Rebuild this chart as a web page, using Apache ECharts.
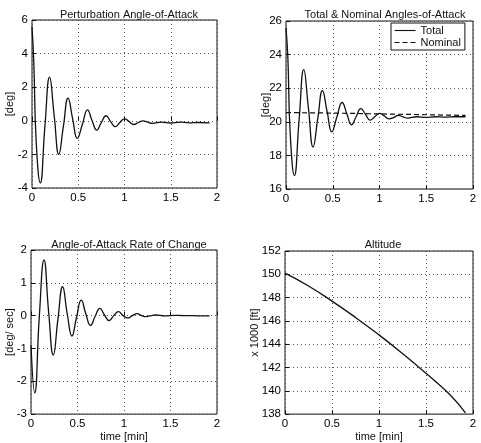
<!DOCTYPE html>
<html>
<head>
<meta charset="utf-8">
<script src="https://cdn.jsdelivr.net/npm/echarts@6/dist/echarts.min.js"></script>
<style>
  html, body { margin: 0; padding: 0; background: #fff; }
  #main { width: 481px; height: 443px; }
</style>
</head>
<body>
<div id="main"></div>
<script>
// time samples (min)
var tAlpha = [0, 0.02, 0.045, 0.09, 0.14, 0.19, 0.24, 0.29, 0.34, 0.39, 0.44, 0.49, 0.545, 0.6, 0.65, 0.7, 0.75, 0.8, 0.85, 0.9, 0.95, 1.0, 1.05, 1.1, 1.15, 1.2, 1.25, 1.3, 1.4, 1.5, 1.6, 1.7, 1.8, 1.92];
var pertAlpha = [5.6, 3.4, -1.2, -3.7, -0.3, 2.6, 0.3, -2.0, -0.3, 1.35, 0.1, -1.05, -0.2, 0.65, 0.0, -0.55, -0.1, 0.3, -0.05, -0.35, -0.1, 0.12, -0.05, -0.22, -0.1, 0.0, -0.08, -0.15, -0.08, -0.13, -0.08, -0.12, -0.1, -0.12];
var totalAlpha = [25.6, 23.8, 19.3, 16.8, 20.1, 23.1, 20.8, 18.5, 20.2, 21.85, 20.6, 19.4, 20.3, 21.15, 20.5, 19.82, 20.3, 20.78, 20.45, 20.1, 20.3, 20.5, 20.35, 20.18, 20.25, 20.38, 20.3, 20.22, 20.3, 20.26, 20.3, 20.28, 20.3, 20.3];

var tNominal = [0, 0.5, 1.0, 1.5, 1.92];
var nominalAlpha = [20.55, 20.52, 20.47, 20.42, 20.38];

var tRate = [0, 0.04, 0.09, 0.14, 0.19, 0.24, 0.29, 0.34, 0.39, 0.44, 0.49, 0.54, 0.59, 0.64, 0.69, 0.74, 0.79, 0.84, 0.89, 0.94, 0.99, 1.04, 1.09, 1.14, 1.19, 1.24, 1.29, 1.34, 1.44, 1.54, 1.64, 1.74, 1.84, 1.92];
var rateAlpha = [-0.9, -2.35, 0.0, 1.7, 0.1, -1.2, -0.1, 0.88, 0.05, -0.62, -0.05, 0.47, 0.05, -0.3, -0.02, 0.22, 0.02, -0.15, 0.0, 0.12, 0.0, -0.07, 0.0, 0.06, 0.0, -0.03, 0.0, 0.02, -0.01, 0.01, 0.0, 0.0, -0.01, -0.01];

var tAlt = [0, 0.25, 0.5, 0.75, 1.0, 1.25, 1.5, 1.75, 1.92];
var altitude = [150.1, 149.0, 147.7, 146.3, 144.8, 143.2, 141.5, 139.7, 138.1];

var titles = ['Perturbation Angle-of-Attack', 'Total & Nominal Angles-of-Attack', 'Angle-of-Attack Rate of Change', 'Altitude'];
var yNames = ['[deg]', '[deg]', '[deg/ sec]', 'x 1000 [ft]'];
var yRanges = [[-4, 6, 2], [16, 26, 2], [-3, 2, 1], [138, 152, 2]];

function pairs(t, v) {
  var out = [];
  for (var i = 0; i < t.length; i++) out.push([t[i], v[i]]);
  return out;
}

var FONT = 'Liberation Sans';
var grids = [
  {left: 32, top: 20, width: 185, height: 168},
  {left: 286, top: 21, width: 187, height: 168},
  {left: 31, top: 250, width: 186, height: 167},
  {left: 285, top: 251, width: 188, height: 166}
];
var titlePos = [[124, 4], [380, 4], [124, 234], [378, 234]];
var yGaps = [17, 15, 16, 25];

var grid = [], xAxis = [], yAxis = [], title = [];
for (var i = 0; i < 4; i++) {
  grid.push(Object.assign({show: true, borderColor: '#111', borderWidth: 1, backgroundColor: '#fff'}, grids[i]));
  title.push({
    text: titles[i], left: titlePos[i][0], top: titlePos[i][1], textAlign: 'center',
    textStyle: {fontFamily: FONT, fontSize: 11, fontWeight: 'normal', color: '#111'}
  });
  xAxis.push({
    type: 'value', gridIndex: i, min: 0, max: 2, interval: 0.5,
    name: i >= 2 ? 'time [min]' : '', nameLocation: 'middle', nameGap: 16,
    nameTextStyle: {fontFamily: FONT, fontSize: 11, color: '#111'},
    axisLine: {show: false},
    axisTick: {show: true, inside: true, length: 4, lineStyle: {color: '#111'}},
    axisLabel: {fontFamily: FONT, fontSize: 11.5, color: '#000', margin: 4},
    splitLine: {show: true, lineStyle: {color: '#555', type: [1, 3], width: 1}}
  });
  yAxis.push({
    type: 'value', gridIndex: i, min: yRanges[i][0], max: yRanges[i][1], interval: yRanges[i][2],
    name: yNames[i], nameLocation: 'middle', nameGap: yGaps[i], nameRotate: 90, nameMoveOverlap: false,
    nameTextStyle: {fontFamily: FONT, fontSize: 11, color: '#111'},
    axisLine: {show: false},
    axisTick: {show: true, inside: true, length: 4, lineStyle: {color: '#111'}},
    axisLabel: {fontFamily: FONT, fontSize: 11.5, color: '#000', margin: 4},
    splitLine: {show: true, lineStyle: {color: '#555', type: [1, 3], width: 1}}
  });
}

var lineBase = {type: 'line', symbol: 'none', smooth: true, animation: false,
  lineStyle: {color: '#111', width: 1.3}, itemStyle: {color: '#111'}};

var option = {
  backgroundColor: '#fff',
  animation: false,
  title: title,
  grid: grid,
  xAxis: xAxis,
  yAxis: yAxis,
  legend: {
    data: ['Total', 'Nominal'],
    orient: 'vertical', left: 391, top: 23,
    backgroundColor: '#fff', borderColor: '#111', borderWidth: 1,
    padding: [2, 4, 2, 3], itemGap: 1, itemWidth: 21, itemHeight: 10,
    itemStyle: {opacity: 0},
    lineStyle: {width: 1.1},
    textStyle: {fontFamily: FONT, fontSize: 11, color: '#111', padding: [0, 0, 0, 0]}
  },
  series: [
    Object.assign({}, lineBase, {name: 'pert', xAxisIndex: 0, yAxisIndex: 0, data: pairs(tAlpha, pertAlpha)}),
    Object.assign({}, lineBase, {name: 'Total', xAxisIndex: 1, yAxisIndex: 1, data: pairs(tAlpha, totalAlpha)}),
    Object.assign({}, lineBase, {name: 'Nominal', xAxisIndex: 1, yAxisIndex: 1, smooth: false, z: 3,
      lineStyle: {color: '#111', width: 1.2, type: [5, 3]}, data: pairs(tNominal, nominalAlpha)}),
    Object.assign({}, lineBase, {name: 'rate', xAxisIndex: 2, yAxisIndex: 2, data: pairs(tRate, rateAlpha)}),
    Object.assign({}, lineBase, {name: 'alt', xAxisIndex: 3, yAxisIndex: 3, data: pairs(tAlt, altitude)})
  ]
};

var myChart = echarts.init(document.getElementById('main'), null, {renderer: 'canvas'});
myChart.setOption(option);
</script>
</body>
</html>
